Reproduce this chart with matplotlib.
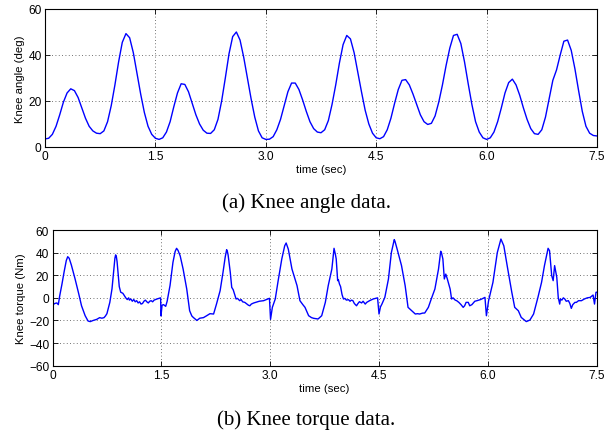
import matplotlib
matplotlib.use("Agg")
import matplotlib.pyplot as plt

# ---- Knee angle data (deg) ----
angle_t = [0.00, 0.05, 0.10, 0.15, 0.20, 0.25, 0.30, 0.35, 0.40, 0.45, 0.50, 0.55, 0.60, 0.65, 0.70, 0.75,
           0.80, 0.85, 0.90, 0.95, 1.00, 1.05, 1.10, 1.15, 1.20, 1.25, 1.30, 1.35, 1.40, 1.45, 1.50, 1.55,
           1.60, 1.65, 1.70, 1.75, 1.80, 1.85, 1.90, 1.95, 2.00, 2.05, 2.10, 2.15, 2.20, 2.25, 2.30, 2.35,
           2.40, 2.45, 2.50, 2.55, 2.60, 2.65, 2.70, 2.75, 2.80, 2.85, 2.90, 2.95, 3.00, 3.05,
           3.10, 3.15, 3.20, 3.25, 3.30, 3.35, 3.40, 3.45, 3.50, 3.55, 3.60, 3.65, 3.70, 3.75, 3.80, 3.85,
           3.90, 3.95, 4.00, 4.05, 4.10, 4.15, 4.20, 4.25, 4.30, 4.35, 4.40, 4.45, 4.50, 4.55,
           4.60, 4.65, 4.70, 4.75, 4.80, 4.85, 4.90, 4.95, 5.00, 5.05, 5.10, 5.15, 5.20, 5.25, 5.30, 5.35,
           5.40, 5.45, 5.50, 5.55, 5.60, 5.65, 5.70, 5.75, 5.80, 5.85, 5.90, 5.95, 6.00, 6.05,
           6.10, 6.15, 6.20, 6.25, 6.30, 6.35, 6.40, 6.45, 6.50, 6.55, 6.60, 6.65, 6.70, 6.75, 6.80, 6.85,
           6.90, 6.95, 7.00, 7.05, 7.10, 7.15, 7.20, 7.25, 7.30, 7.35, 7.40, 7.45, 7.50]
angle_v = [3.5, 3.8, 5.5, 9, 14, 19.5, 23.5, 25.3, 24.5, 21.5, 17, 12.5, 9, 7, 6, 5.8,
           7, 11, 18, 27, 37, 45.5, 49.3, 47.5, 41, 32, 23, 15, 9, 5.5, 3.8, 3.3,
           4, 6.5, 11, 17.5, 23.5, 27.5, 27.2, 24, 19, 14, 10, 7.3, 6, 5.9, 7.5, 12,
           20, 30, 40.5, 48, 50, 46.5, 39, 30, 21, 13, 7, 4, 3.3, 3.4,
           4.5, 7.5, 12, 18, 24, 27.8, 27.8, 25, 20.5, 15.5, 11, 8, 6.5, 6.2, 7.5, 11.5,
           18.5, 27, 36.5, 44.5, 48.5, 47, 41, 32.5, 24, 16, 10, 6, 4, 3.6,
           4.5, 7.5, 12.5, 19, 25, 29, 29.3, 27, 23, 18.5, 14, 11, 9.8, 10.3, 13.5, 19.5,
           27, 35.5, 43, 48.5, 49, 45, 37, 27.5, 18.5, 11, 6.5, 4, 3.3, 4,
           6.5, 11, 17, 23.5, 28, 29.5, 27, 22.5, 17, 12, 8, 5.8, 5.5, 7.5, 13, 21,
           29, 33.5, 40, 46, 46.5, 42, 34, 24.5, 15.5, 9, 6, 5, 4.8]

# ---- Knee torque data (Nm) ----
torque_t = [0.00, 0.01, 0.03, 0.06, 0.08, 0.10, 0.13, 0.16, 0.19, 0.21, 0.23, 0.26, 0.31, 0.36, 0.40,
            0.45, 0.49, 0.52, 0.56, 0.61, 0.65, 0.68, 0.71, 0.73, 0.75, 0.79, 0.82, 0.84, 0.86, 0.87,
            0.88, 0.89, 0.91, 0.92, 0.94, 0.97, 0.99, 1.01, 1.03, 1.05, 1.06, 1.08, 1.10, 1.12, 1.14,
            1.16, 1.18, 1.20, 1.22, 1.24, 1.26, 1.28, 1.30, 1.32, 1.34, 1.36, 1.38, 1.40, 1.44, 1.49,
            1.495, 1.51, 1.53, 1.56, 1.58, 1.62, 1.66, 1.69, 1.71, 1.73, 1.76, 1.80, 1.85, 1.89, 1.92,
            1.94, 1.99, 2.03, 2.08, 2.12, 2.17, 2.22, 2.26, 2.31, 2.35, 2.38, 2.40, 2.41, 2.42, 2.45,
            2.47, 2.49, 2.51, 2.53, 2.55, 2.58, 2.60, 2.62, 2.65, 2.68, 2.70, 2.72, 2.74, 2.77, 2.80,
            2.85, 2.91, 2.99, 3.005, 3.03, 3.07, 3.11, 3.16, 3.20, 3.22, 3.25, 3.30, 3.37, 3.41, 3.45,
            3.48, 3.53, 3.57, 3.60, 3.66, 3.71, 3.76, 3.80, 3.85, 3.88, 3.90, 3.91, 3.93, 3.94, 3.955,
            3.97, 3.99, 4.01, 4.03, 4.05, 4.08, 4.10, 4.12, 4.14, 4.16, 4.19, 4.21, 4.23, 4.26, 4.28,
            4.31, 4.33, 4.37, 4.42, 4.48, 4.50, 4.52, 4.54, 4.58, 4.63, 4.67, 4.71, 4.72, 4.75, 4.81,
            4.86, 4.90, 4.95, 5.00, 5.03, 5.06, 5.10, 5.13, 5.18, 5.22, 5.27, 5.32, 5.35, 5.36, 5.38,
            5.40, 5.42, 5.44, 5.48, 5.50, 5.52, 5.55, 5.57, 5.60, 5.63, 5.66, 5.68, 5.70, 5.73, 5.75,
            5.78, 5.82, 5.85, 5.90, 5.96, 5.98, 6.01, 6.07, 6.13, 6.18, 6.22, 6.27, 6.33, 6.37, 6.42,
            6.46, 6.53, 6.58, 6.63, 6.69, 6.74, 6.78, 6.83, 6.85, 6.88, 6.90, 6.92, 6.95, 6.97, 6.99,
            7.00, 7.02, 7.04, 7.06, 7.08, 7.11, 7.13, 7.15, 7.17, 7.20, 7.22, 7.25, 7.29, 7.33, 7.37,
            7.41, 7.45, 7.47, 7.49, 7.50]
torque_v = [-14, -6, -5, -4.5, -6, 2, 12, 23, 33, 36.4, 35, 29, 17, 4, -7,
            -15.8, -20.5, -21, -20, -19, -17.5, -18, -17.5, -16, -14, -4, 8, 22, 35, 38,
            36.5, 32, 18, 10, 5, 4, 2, 0, -1.5, 0, -2, -1, -3, -1.5, -3.5,
            -2.5, -4.5, -3.5, -5.5, -5, -3, -2, -3.5, -4.5, -3, -2.5, -3.5, -2, -1, 0,
            -16, -6.5, -6, -7.5, -3, 11, 31.4, 41, 43.8, 42, 37, 25.5, 7.8, -11.4, -16,
            -17.3, -20, -18, -17.5, -16, -14, -14.3, -5.5, 6.3, 22.6, 36, 42.6, 41, 38, 22.6,
            9.3, 7.2, 3, -1, -0.5, -2.5, -1.5, -3.5, -4, -5.5, -6.5, -7, -5.5, -4.6, -4,
            -3, -2.5, -0.4, -19, -8.4, -1, 15.2, 34.4, 46, 48.5, 43, 25.5, 10.8, -2.5, -6,
            -8.4, -15.8, -17.5, -18.1, -18.7, -15.8, -4, 10.8, 25.5, 43.8, 38, 34.4, 15.2, 16, 12.2,
            10, 3, -1, -0.5, -2, -1.6, -3, -2, -2.5, -5, -7, -5, -3.4, -4.5, -3,
            -5.5, -4, -2.5, -1, 0, -14.3, -8, -5.5, 0.4, 16.7, 40, 51.5, 50, 43, 28.5,
            10.8, -8.4, -11.4, -14.3, -14, -14.3, -13.5, -13.4, -8.4, -1, 7.8, 25.5, 41.2, 40, 34.4,
            16.7, 21, 17, 7.8, -1, 0, -2, -2.5, -4, -6, -8.4, -7, -4, -4, -7,
            -6, -3, -2.5, -1.5, 0.4, -15.8, -2.5, 13.7, 40, 52, 46, 27, 4.9, -8.4, -11.4,
            -17.3, -21, -19.6, -14.3, 0.4, 13.7, 28.5, 43.8, 41.7, 19.6, 15.2, 28.5, 18.1, 0.4, -5.5,
            -1, -2, 0, -1, -3, -2.5, -5, -9.3, -6, -4, -4, -2.5, -2.5, -1, 0,
            0.4, 2.5, -5.5, 4.9, 5]

x_ticks = [0, 1.5, 3.0, 4.5, 6.0, 7.5]
x_tick_labels = ["0", "1.5", "3.0", "4.5", "6.0", "7.5"]
angle_yticks = [0, 20, 40, 60]
torque_yticks = [-60, -40, -20, 0, 20, 40, 60]

sans = ["Liberation Sans", "DejaVu Sans"]
serif = ["Liberation Serif", "DejaVu Serif"]
plt.rcParams["font.family"] = sans
plt.rcParams["axes.unicode_minus"] = True

W, H = 604, 439
fig = plt.figure(figsize=(W / 100, H / 100), dpi=100)

def px_axes(l, t, r, b):
    return fig.add_axes([l / W, 1 - b / H, (r - l) / W, (b - t) / H])

def style(ax, yticks, ylim):
    ax.set_xlim(0, 7.5)
    ax.set_ylim(*ylim)
    ax.set_xticks(x_ticks)
    ax.set_xticklabels(x_tick_labels)
    ax.set_yticks(yticks)
    ax.tick_params(direction="in", length=3.5, width=0.6, top=True, right=True,
                   labelsize=8.6, pad=2.5)
    ax.grid(True, linestyle=(0, (1, 3)), color="#444444", linewidth=0.6)
    for s in ax.spines.values():
        s.set_linewidth(0.8)
    ax.set_xlabel("time (sec)", fontsize=8.2, labelpad=1.0)

ax1 = px_axes(45, 10, 597, 148)
ax1.plot(angle_t, angle_v, color="#0000ff", linewidth=1.0)
style(ax1, angle_yticks, (0, 60))
ax1.set_ylabel("Knee angle (deg)", fontsize=8.2, labelpad=2)

ax2 = px_axes(52.5, 231, 596.7, 366.7)
ax2.plot(torque_t, torque_v, color="#0000ff", linewidth=1.0)
style(ax2, torque_yticks, (-60, 60))
ax2.set_ylabel("Knee torque (Nm)", fontsize=8.2, labelpad=2)

fig.text(306 / W, 1 - 203 / H, "(a) Knee angle data.", family=serif, fontsize=15,
         ha="center", va="center")
fig.text(306 / W, 1 - 420 / H, "(b) Knee torque data.", family=serif, fontsize=15,
         ha="center", va="center")

fig.savefig("out.png", dpi=100)
